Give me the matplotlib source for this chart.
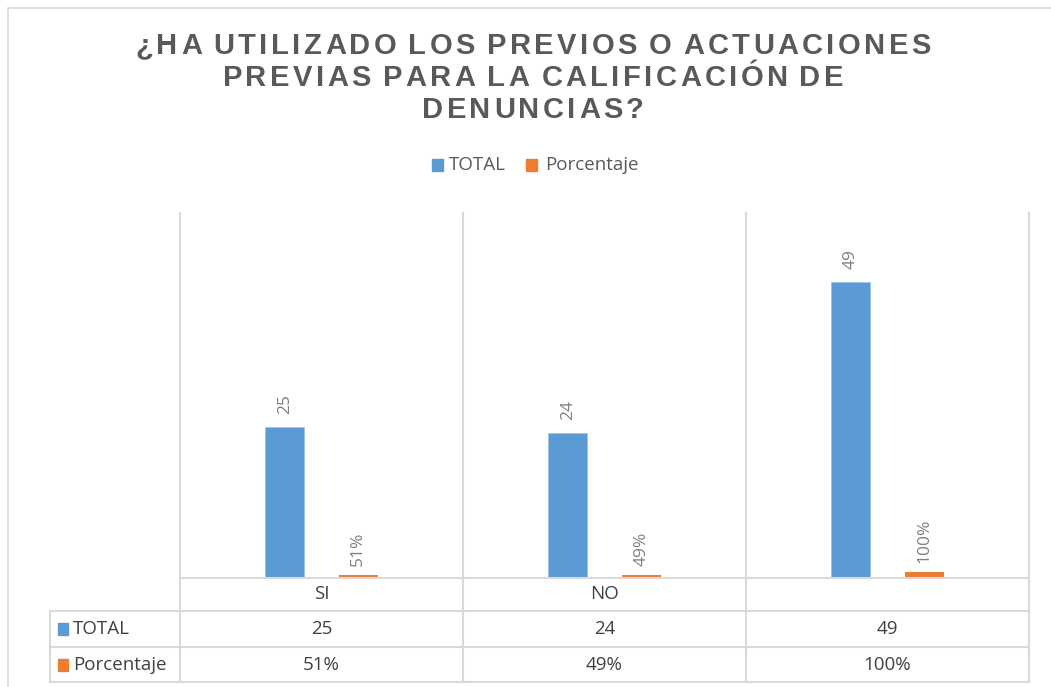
import matplotlib.pyplot as plt
from matplotlib.patches import Rectangle
from matplotlib.lines import Line2D
from matplotlib.font_manager import FontProperties
import numpy as np

categorias = ["SI", "NO", ""]
total = [25, 24, 49]
porcentaje = [0.51, 0.49, 1.00]
etiq_total = ["25", "24", "49"]
etiq_pct = ["51%", "49%", "100%"]
series = ["TOTAL", "Porcentaje"]

azul = "#5b9bd5"
naranja = "#ed7d31"
gris_linea = "#d9d9d9"
gris_txt = "#595959"

W, H = 1051, 687
fig = plt.figure(figsize=(W / 100, H / 100), dpi=100)

def fx(px):
    return px / W

def fy(py):
    return 1 - py / H

# borde del grafico
fig.patches.append(Rectangle((fx(8), fy(700)), fx(1060), fy(8) - fy(700),
                             transform=fig.transFigure, fill=False,
                             edgecolor=gris_linea, lw=1.2))

ax = fig.add_axes([fx(180), fy(578), fx(1029) - fx(180), fy(213) - fy(578)])
x = np.arange(len(categorias)) + 0.5
w = 0.138
ax.bar(x - 0.13, total, w, color=azul, edgecolor="#9dc3e6", lw=0.6)
ax.bar(x + 0.13, porcentaje, w, color=naranja)
ax.set_xlim(0, 3)
ax.set_ylim(0, 60.4)
for s in ax.spines.values():
    s.set_visible(False)
ax.set_xticks([])
ax.set_yticks([])

for i in range(len(categorias)):
    ax.text(x[i] - 0.13, total[i] + 2.2, etiq_total[i], rotation=90,
            ha="center", va="bottom", fontsize=12.5, color="#7f7f7f", family="Open Sans")
    ax.text(x[i] + 0.13, porcentaje[i] + 1.5, etiq_pct[i], rotation=90,
            ha="center", va="bottom", fontsize=12.5, color="#7f7f7f", family="Open Sans")

# lineas de la tabla de datos
def hline(y, x0, x1):
    fig.add_artist(Line2D([fx(x0), fx(x1)], [fy(y), fy(y)], color=gris_linea, lw=1.5))

def vline(xp, y0, y1):
    fig.add_artist(Line2D([fx(xp), fx(xp)], [fy(y0), fy(y1)], color=gris_linea, lw=1.5))

cols = [180, 463, 746, 1029]
hline(578, 180, 1029)
for y in [611, 647, 682]:
    hline(y, 50, 1029)
for c in cols:
    vline(c, 213, 682)
vline(50, 611, 682)

centros = [(cols[i] + cols[i + 1]) / 2 for i in range(3)]
filas_y = [594, 629, 665]
txt_kw = dict(ha="center", va="center", fontsize=13.5, color="#404040", family="Open Sans")
for i in range(3):
    fig.text(fx(centros[i]), fy(filas_y[0]), categorias[i], **txt_kw)
    fig.text(fx(centros[i]), fy(filas_y[1]), etiq_total[i], **txt_kw)
    fig.text(fx(centros[i]), fy(filas_y[2]), etiq_pct[i], **txt_kw)

for nombre, col, yy in [(series[0], azul, filas_y[1]), (series[1], naranja, filas_y[2])]:
    fig.patches.append(Rectangle((fx(58), fy(yy + 6)), fx(10), fy(yy - 6) - fy(yy + 6),
                                 transform=fig.transFigure, color=col))
    fig.text(fx(73), fy(yy), nombre, ha="left", va="center", fontsize=13.5,
             color="#404040", family="Open Sans")

# leyenda
fig.patches.append(Rectangle((fx(432), fy(171)), fx(11), fy(159) - fy(171),
                             transform=fig.transFigure, color=azul))
fig.text(fx(449), fy(165), series[0], ha="left", va="center", fontsize=13.5,
         color=gris_txt, family="Open Sans")
fig.patches.append(Rectangle((fx(526), fy(171)), fx(11), fy(159) - fy(171),
                             transform=fig.transFigure, color=naranja))
fig.text(fx(545), fy(165), series[1], ha="left", va="center", fontsize=13.5,
         color=gris_txt, family="Open Sans")

# titulo con espaciado entre letras
titulo = ["¿HA UTILIZADO LOS PREVIOS O ACTUACIONES",
          "PREVIAS PARA LA CALIFICACIÓN DE",
          "DENUNCIAS?"]
prop = FontProperties(family="Liberation Sans", weight="bold", size=21)
rend = fig.canvas.get_renderer()
esp = 3.4  # px entre letras
hueco = 5.0  # ancho del espacio entre palabras
for linea, yy in zip(titulo, [46, 78, 110]):
    anchos = [hueco if c == " " else
              rend.get_text_width_height_descent(c, prop, ismath=False)[0] for c in linea]
    total_w = sum(anchos) + esp * (len(linea) - 1)
    xc = 533 - total_w / 2
    for c, a in zip(linea, anchos):
        if c != " ":
            fig.text(fx(xc), fy(yy), c, ha="left", va="center", fontproperties=prop,
                     color=gris_txt)
        xc += a + esp

fig.savefig("out.png", dpi=100)
